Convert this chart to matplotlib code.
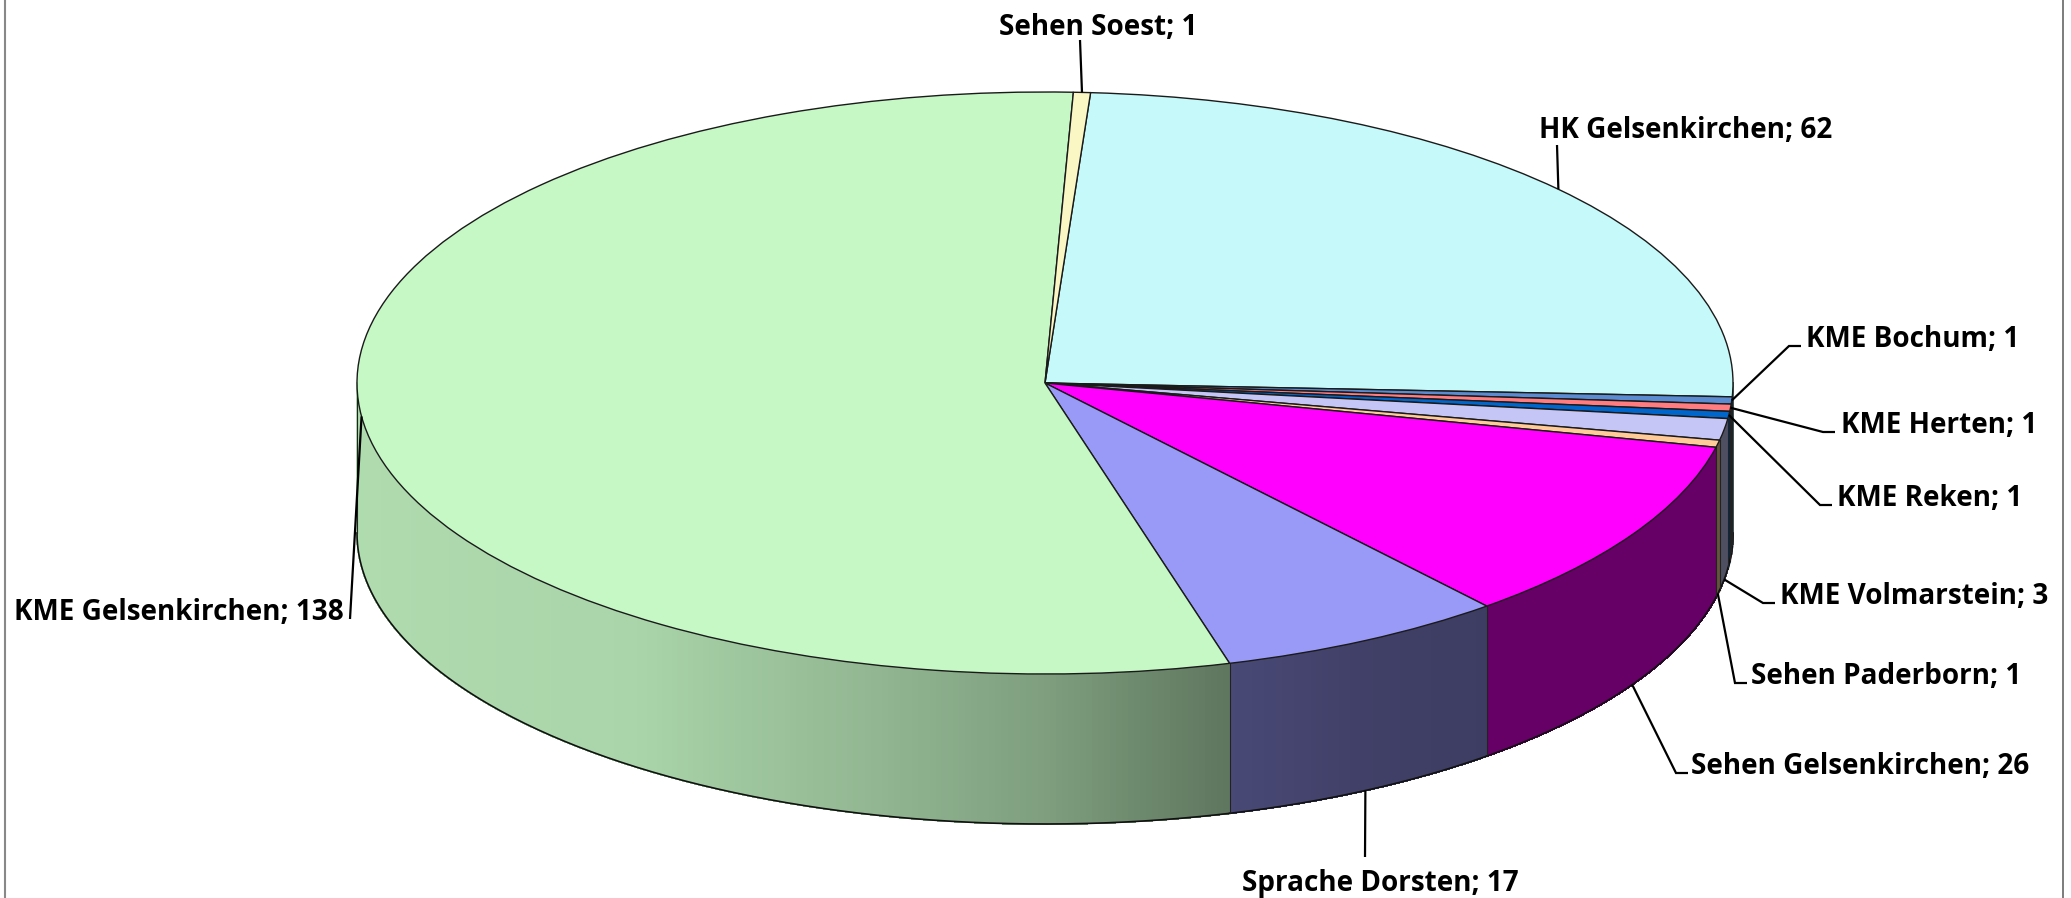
import numpy as np
import matplotlib
matplotlib.use('Agg')
import matplotlib.pyplot as plt
from matplotlib.collections import PolyCollection
from matplotlib.colors import to_rgb

names = ['HK Gelsenkirchen', 'KME Bochum', 'KME Herten', 'KME Reken', 'KME Volmarstein',
         'Sehen Paderborn', 'Sehen Gelsenkirchen', 'Sprache Dorsten', 'KME Gelsenkirchen', 'Sehen Soest']
values = [62, 1, 1, 1, 3, 1, 26, 17, 138, 1]
colors = ['#C6F9F9', '#5B8BD0', '#FF7C80', '#0066CC', '#C6C6F6',
          '#FFCC99', '#FF00FF', '#9999F8', '#C6F8C6', '#FBF7C5']

W, H = 2071, 898
CX, CY = 1045, 383      # centre of the top ellipse, pixels
RX, RY = 688, 291       # radii of the top ellipse, pixels
DEPTH = 150 / RY        # height of the wall in pie units


def px(x, y):
    """ convert picture pixels to pie coordinates """
    return (x - CX) / RX, (CY - y) / RY


def shade(angle):
    """ brightness of the side wall, by angle on the ellipse """
    a = np.mod(angle, 360)
    return np.interp(a, [180, 233, 255, 270, 285, 297, 310, 360],
                     [0.89, 0.86, 0.74, 0.64, 0.48, 0.42, 0.40, 0.40])


fig = plt.figure(figsize=(W / 100, H / 100), dpi=100)
ax = fig.add_axes([0, 0, 1, 1])

# top of the pie, the wedges stretch to an ellipse with aspect auto
wedges, _ = ax.pie(values, colors=colors, startangle=86.2, counterclock=False, radius=1,
                   wedgeprops={'edgecolor': '#1a1a1a', 'linewidth': 1.0, 'zorder': 5})
ax.set_aspect('auto')
ax.set_xlim(*sorted([px(0, 0)[0], px(W, 0)[0]]))
ax.set_ylim(px(0, H)[1], px(0, 0)[1])
ax.axis('off')

# side wall, cut in thin strips so it can carry the gradient
for wedge, color in zip(wedges, colors):
    lo = max(wedge.theta1, 180)
    hi = min(wedge.theta2, 360)
    if wedge.theta2 <= 180 or lo >= hi:
        # slices are kept in 0-360 by shifting below
        if wedge.theta1 + 360 < 360 and wedge.theta2 + 360 > 180:
            lo = max(wedge.theta1 + 360, 180)
            hi = min(wedge.theta2 + 360, 360)
        else:
            continue
    edges = np.linspace(lo, hi, max(2, int((hi - lo) * 2)))
    polys = []
    fills = []
    base = np.array(to_rgb(color))
    for a, b in zip(edges[:-1], edges[1:]):
        t = np.radians([a, b])
        x = np.cos(t)
        y = np.sin(t)
        polys.append([(x[0], y[0]), (x[1], y[1]), (x[1], y[1] - DEPTH), (x[0], y[0] - DEPTH)])
        fills.append(base * shade((a + b) / 2))
    ax.add_collection(PolyCollection(polys, facecolors=fills, edgecolors=fills, linewidths=0.8,
                                     antialiaseds=False, zorder=2))
    # wall outline
    t = np.radians(np.linspace(lo, hi, 200))
    ax.plot(np.cos(t), np.sin(t) - DEPTH, color='#111111', lw=1.2, zorder=3)
    tb = np.radians(lo)
    ax.plot([np.cos(tb)] * 2, [np.sin(tb), np.sin(tb) - DEPTH], color='#222222', lw=0.8, zorder=3)

# labels, elbow points in pixels
label_pos = [(1686, 127), (1913, 336), (1939, 422), (1930, 495), (1914, 593),
             (1886, 673), (1860, 763), (1380, 880), (179, 609), (1098, 24)]
elbows = [[], [(1789, 346), (1801, 346)], [(1823, 432), (1835, 432)], [(1820, 505), (1832, 505)],
          [(1763, 603), (1775, 603)], [(1735, 683), (1747, 683)], [(1676, 773), (1688, 773)],
          [], [], []]
leader_ends = [(1557, 145), None, None, None, None, None, None, (1365, 857), (350, 619), (1080, 40)]
on_bottom = [False, False, False, False, True, True, True, True, False, False]

for i, wedge in enumerate(wedges):
    mid = np.radians((wedge.theta1 + wedge.theta2) / 2)
    x0, y0 = np.cos(mid), np.sin(mid)
    if on_bottom[i]:
        y0 -= DEPTH
    pts = [(x0, y0)] + [px(*p) for p in elbows[i]]
    if leader_ends[i] is not None:
        pts.append(px(*leader_ends[i]))
    ax.plot([p[0] for p in pts], [p[1] for p in pts], color='black', lw=1.6, zorder=6,
            solid_capstyle='butt', solid_joinstyle='miter')
    lx, ly = px(*label_pos[i])
    ax.text(lx, ly, '{}; {}'.format(names[i], values[i]), ha='center', va='center_baseline',
            fontsize=20.1, fontweight='bold', family='Open Sans', color='black', zorder=7)

# chart frame, only the sides are in the crop
ax.plot([px(5, 0)[0]] * 2, [px(0, 0)[1], px(0, H)[1]], color='#888888', lw=1.5, zorder=1)
ax.plot([px(2063, 0)[0]] * 2, [px(0, 0)[1], px(0, H)[1]], color='#666666', lw=1.2, zorder=1)

fig.savefig('out.png', dpi=100, facecolor='white')
